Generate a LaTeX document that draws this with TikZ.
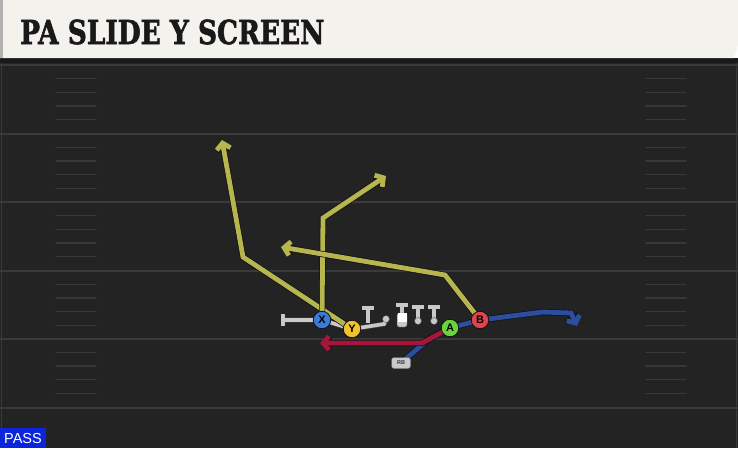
\documentclass[tikz,border=0pt]{standalone}
\usepackage{fontspec}
\setmainfont{Liberation Sans}
\newfontfamily\titlefont{DejaVu Serif}[BoldFeatures={FakeBold=2}]
\usepackage{graphicx}
\usetikzlibrary{arrows.meta}
\definecolor{field}{HTML}{232323}
\definecolor{yardln}{HTML}{3A3A3A}
\definecolor{hashln}{HTML}{383838}
\definecolor{paper}{HTML}{F4F2EC}
\definecolor{outl}{HTML}{111118}
\definecolor{yroute}{HTML}{B7B64E}
\definecolor{broute}{HTML}{2C4E9E}
\definecolor{rroute}{HTML}{A4173A}
\definecolor{blk}{HTML}{C9C9C9}
\definecolor{xcol}{HTML}{3B7BD8}
\definecolor{ycol}{HTML}{F2C12E}
\definecolor{acol}{HTML}{6BD43A}
\definecolor{bcol}{HTML}{E2434B}
\definecolor{passblue}{HTML}{0B24DC}
\tikzset{
  route/.style={line width=4.8pt, preaction={draw=outl, line width=6.2pt}},
  tip/.style={-{Straight Barb[length=6pt,width=14pt]}},
  blocker/.style={draw=blk, line width=3.6pt, preaction={draw=black!70, line width=4.6pt}},
  player/.style={circle, draw=outl, line width=0.8pt, minimum size=17.5pt, inner sep=0pt,
    font=\bfseries\fontsize{11}{11}\selectfont}
}

\begin{document}
\begin{tikzpicture}[x=1pt,y=-1pt]
	\useasboundingbox (0,0) rectangle (738,448);
	%%  Field  %%%%%%%%
	\fill[field] (0,58) rectangle (738,448);
	\fill[black!90] (0,58) rectangle (738,63);
	\draw[yardln, line width=1.5pt] (1.5,63) -- (1.5,448) (736.5,63) -- (736.5,448);
	\foreach \yl in {65,133.5,202,270.5,338.5,408}
		\draw[yardln, line width=2pt] (0,\yl) -- (738,\yl);
	\foreach \yl in {65,133.5,202,270.5,338.5}
		\foreach \k in {1,...,4}
			\draw[hashln, line width=1.3pt, line cap=round] (56,\yl+13.7*\k) -- (96,\yl+13.7*\k)
				(646,\yl+13.7*\k) -- (686,\yl+13.7*\k);
	%%  Title  %%%%%%%%
	\fill[paper] (0,0) -- (738,0) -- (738,45) -- (734,58) -- (0,58) -- cycle;
	\fill[black!30] (0,0) rectangle (3,58);
	\node[anchor=west, text=black!90, inner sep=0pt] (title) at (20,32)
		{\scalebox{0.8}[1]{\titlefont\bfseries\fontsize{33}{33}\selectfont PA SLIDE Y SCREEN}};
	\fill[passblue] (0,428) rectangle (46,448);
	\node[text=white, font=\fontsize{14.5}{14.5}\selectfont, inner sep=0pt] (pass) at (23,438.5) {PASS};
	%%  Players  %%%%%%%%
	\coordinate (X) at (322,320);
	\coordinate (Y) at (352,329);
	\coordinate (A) at (450,328);
	\coordinate (B) at (480,320);
	\coordinate (RB) at (401,363);
	%%  Line  %%%%%%%%
	\draw[blocker] (283,320) -- (X) -- (Y);
	\draw[blocker] (283,314) -- (283,326);
	\draw[blocker] (Y) -- (384,324) -- (386,320);
	\fill[blk, draw=black!70] (386,319) circle (3.5);
	\draw[blocker] (362,308) -- (374,308) (368,308) -- (368,323);
	\draw[blocker] (396,305) -- (408,305) (402,305) -- (402,314);
	\fill[blk, draw=black!70, rounded corners=2pt] (397,313) rectangle (407,327);
	\fill[white] (397.5,313) rectangle (406.5,322);
	\foreach \lx in {418,434} {
		\draw[blocker] (\lx-6,307) -- (\lx+6,307) (\lx,307) -- (\lx,319);
		\fill[blk, draw=black!70] (\lx,321) circle (3.5);
	}
	%%  Routes  %%%%%%%%
	\draw[route, broute, tip] (RB) -- (430,338) -- (A) -- (B) -- (543,312) -- (571,313) -- (577,326);
	\draw[route, rroute, tip] (A) -- (422,343) -- (320,343);
	\draw[route, yroute, tip] (Y) -- (243,257) -- (222,140);
	\draw[route, yroute, tip] (X) -- (323,218) -- (386,176);
	\draw[route, yroute, tip] (B) -- (445,275) -- (281,247);
	\node[player, fill=xcol] (x) at (X) {X};
	\node[player, fill=ycol] (y) at (Y) {Y};
	\node[player, fill=acol] (a) at (A) {A};
	\node[player, fill=bcol] (b) at (B) {B};
	\node[draw=black!60, fill=blk, rounded corners=2.5pt, minimum width=19pt, minimum height=11pt,
		inner sep=0pt, font=\bfseries\fontsize{5.5}{5.5}\selectfont, text=black!80] (rb) at (RB) {RB};
\end{tikzpicture}
\end{document}
